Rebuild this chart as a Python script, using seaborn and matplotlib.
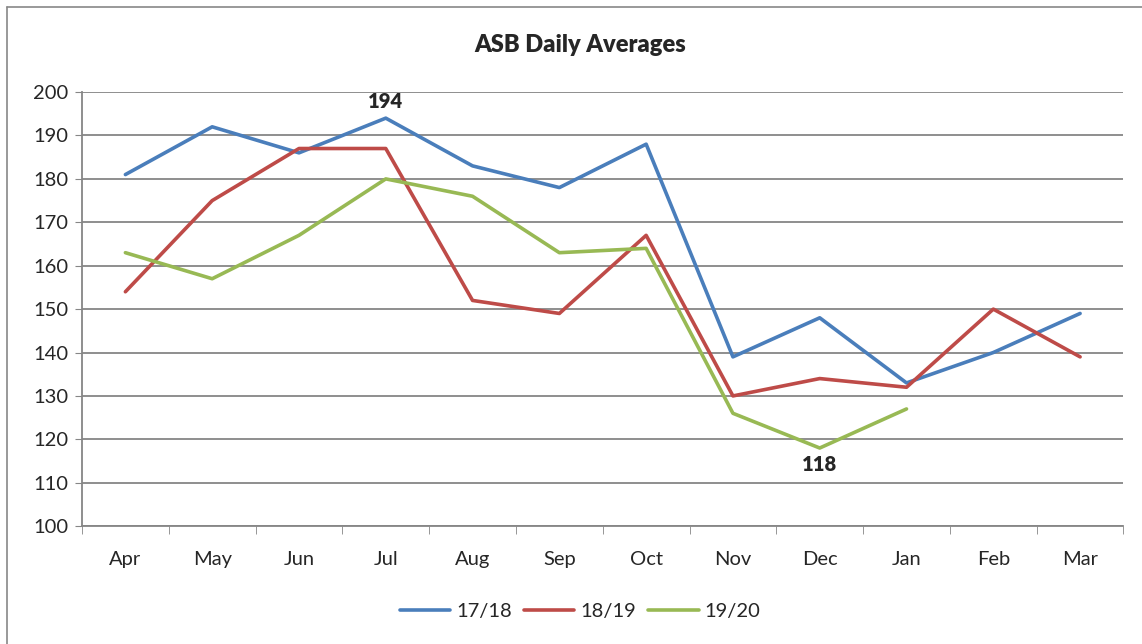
import matplotlib
matplotlib.use("Agg")
import matplotlib.pyplot as plt
import seaborn as sns
import pandas as pd
from matplotlib.lines import Line2D

# data
months = ["Apr", "May", "Jun", "Jul", "Aug", "Sep", "Oct", "Nov", "Dec", "Jan", "Feb", "Mar"]
s1718 = [181, 192, 186, 194, 183, 178, 188, 139, 148, 133, 140, 149]
s1819 = [154, 175, 187, 187, 152, 149, 167, 130, 134, 132, 150, 139]
s1920 = [163, 157, 167, 180, 176, 163, 164, 126, 118, 127]
series_names = ["17/18", "18/19", "19/20"]
colors = ["#4A7EBB", "#BE4B48", "#98B954"]

rows = []
for name, vals in zip(series_names, [s1718, s1819, s1920]):
    for i, v in enumerate(vals):
        rows.append({"month": i, "value": v, "season": name})
df = pd.DataFrame(rows)

sns.set_style("white")
plt.rcParams['font.family'] = ['Lato', 'DejaVu Sans']

fig = plt.figure(figsize=(11.42, 6.44), dpi=100)
ax = fig.add_axes([0.0718, 0.183, 0.912, 0.674])

sns.lineplot(data=df, x="month", y="value", hue="season", palette=colors,
             linewidth=2.6, ax=ax, legend=False, sort=False)

ax.set_xlim(-0.5, len(months) - 0.5)
ax.set_ylim(100, 200)
ax.set_yticks(range(100, 201, 10))
ax.tick_params(axis='y', labelsize=14.5, length=5, color='#868686', pad=5, left=True)
ax.set_xticks(range(len(months)))
ax.set_xticklabels(months)
ax.tick_params(axis='x', which='major', length=0, labelsize=14.5, pad=18)
ax.set_xticks([i - 0.5 for i in range(len(months) + 1)], minor=True)
ax.tick_params(axis='x', which='minor', length=6, color='#868686', bottom=True)
ax.set_xlabel("")
ax.set_ylabel("")
ax.yaxis.grid(True, color='#868686', linewidth=1.3)
ax.set_axisbelow(True)
for side in ["top", "right"]:
    ax.spines[side].set_visible(False)
for side in ["left", "bottom"]:
    ax.spines[side].set_color('#868686')
    ax.spines[side].set_linewidth(1.3)

# data labels for max and min
ax.annotate("194", (3, 194), xytext=(0, 5), textcoords="offset points",
            ha="center", va="bottom", fontsize=14.5, fontweight="heavy")
ax.annotate("118", (8, 118), xytext=(0, -5), textcoords="offset points",
            ha="center", va="top", fontsize=14.5, fontweight="heavy")

fig.text(0.508, 0.93, "ASB Daily Averages", ha="center", va="center",
         fontsize=17, fontweight="heavy")

handles = [Line2D([0], [0], color=c, linewidth=2.6) for c in colors]
fig.legend(handles, series_names, loc="center", bbox_to_anchor=(0.508, 0.05),
           ncol=3, frameon=False, fontsize=14.5, handlelength=2.5,
           columnspacing=0.6, handletextpad=0.3)

# outer chart frame (left and top edges visible)
fig.add_artist(Line2D([7 / 1142, 7 / 1142], [0, 1 - 7 / 644], transform=fig.transFigure,
                      color='#888888', linewidth=1.2))
fig.add_artist(Line2D([7 / 1142, 1], [1 - 7 / 644, 1 - 7 / 644], transform=fig.transFigure,
                      color='#888888', linewidth=1.2))

fig.savefig("out.png", dpi=100)
